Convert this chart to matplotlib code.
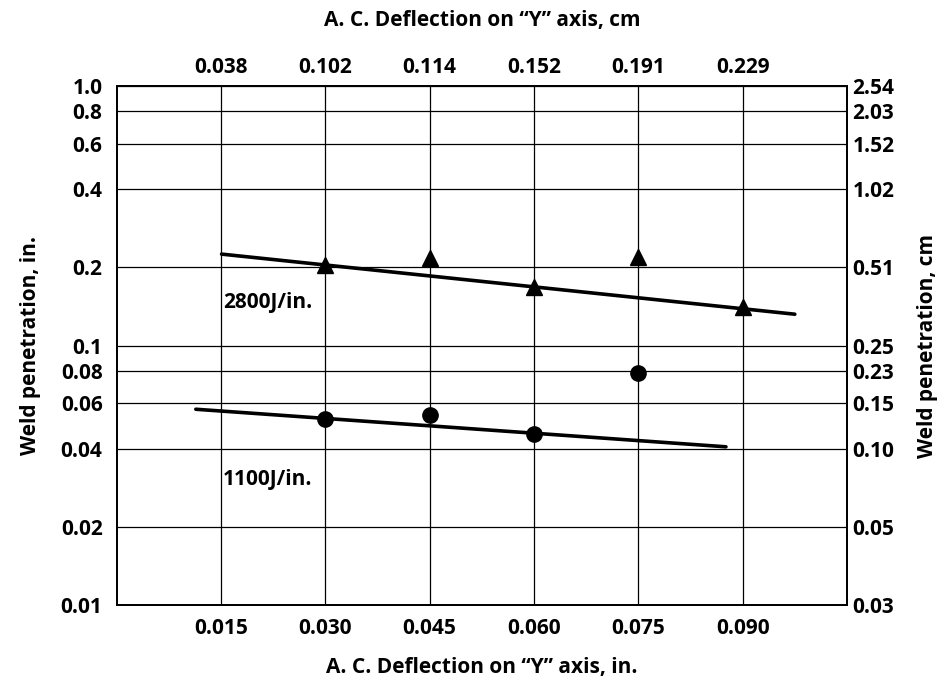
import matplotlib
matplotlib.use("Agg")
import matplotlib.pyplot as plt
import numpy as np

plt.rcParams['font.family'] = ['Open Sans', 'DejaVu Sans']
plt.rcParams['font.weight'] = 'bold'

# Data
x_ticks = [0.015, 0.030, 0.045, 0.060, 0.075, 0.090]
x_tick_labels = ["0.015", "0.030", "0.045", "0.060", "0.075", "0.090"]
top_tick_labels = ["0.038", "0.102", "0.114", "0.152", "0.191", "0.229"]
y_ticks = [1.0, 0.8, 0.6, 0.4, 0.2, 0.1, 0.08, 0.06, 0.04, 0.02, 0.01]
y_tick_labels = ["1.0", "0.8", "0.6", "0.4", "0.2", "0.1", "0.08", "0.06", "0.04", "0.02", "0.01"]
right_tick_labels = ["2.54", "2.03", "1.52", "1.02", "0.51", "0.25", "0.23", "0.15", "0.10", "0.05", "0.03"]

tri_x = [0.030, 0.045, 0.060, 0.075, 0.090]
tri_y = [0.205, 0.217, 0.168, 0.219, 0.141]
line2800_x = [0.0151, 0.0975]
line2800_y = [0.225, 0.132]

circ_x = [0.030, 0.045, 0.060, 0.075]
circ_y = [0.052, 0.054, 0.0456, 0.0786]
line1100_x = [0.0114, 0.0876]
line1100_y = [0.0568, 0.0407]

FS = 15
TS = 15

fig = plt.figure(figsize=(9.38, 6.82), dpi=100)
ax = fig.add_axes([116.5/938, 1-605/682, (847-116.5)/938, (605-86)/682])

ax.set_yscale('log')
ax.set_xlim(0, 0.105)
ax.set_ylim(0.01, 1.0)

ax.plot(line2800_x, line2800_y, color='black', lw=2.6, solid_capstyle='round', zorder=3)
ax.plot(line1100_x, line1100_y, color='black', lw=2.6, solid_capstyle='round', zorder=3)
ax.plot(tri_x, tri_y, linestyle='none', marker='^', color='black', markersize=11, zorder=4)
ax.plot(circ_x, circ_y, linestyle='none', marker='o', color='black', markersize=11, zorder=4)

ax.text(0.0153, 0.147, "2800J/in.", fontsize=FS, fontweight='bold', va='center', ha='left')
ax.text(0.0153, 0.0305, "1100J/in.", fontsize=FS, fontweight='bold', va='center', ha='left')

# grid
for yv in y_ticks:
    ax.axhline(yv, color='black', lw=0.9, zorder=1)
for xv in x_ticks:
    ax.axvline(xv, color='black', lw=0.9, zorder=1)

ax.minorticks_off()
ax.set_xticks(x_ticks)
ax.set_xticklabels(x_tick_labels, fontsize=FS, fontweight='bold')
ax.set_yticks(y_ticks)
ax.set_yticklabels(y_tick_labels, fontsize=FS, fontweight='bold')
ax.tick_params(axis='x', length=0, pad=9)
ax.tick_params(axis='y', length=0, pad=10)

for s in ax.spines.values():
    s.set_linewidth(1.2)
    s.set_color('black')

ax.set_xlabel("A. C. Deflection on \u201cY\u201d axis, in.", fontsize=TS, fontweight='bold', labelpad=13)
ax.set_ylabel("Weld penetration, in.", fontsize=TS, fontweight='bold', labelpad=14)

# top axis
axt = ax.twiny()
axt.set_xlim(ax.get_xlim())
axt.set_xticks(x_ticks)
axt.set_xticklabels(top_tick_labels, fontsize=FS, fontweight='bold')
axt.tick_params(length=0, pad=6)
axt.set_xlabel("A. C. Deflection on \u201cY\u201d axis, cm", fontsize=TS, fontweight='bold', labelpad=22)

# right axis
axr = ax.twinx()
axr.set_yscale('log')
axr.set_ylim(ax.get_ylim())
axr.minorticks_off()
axr.set_yticks(y_ticks)
axr.set_yticklabels(right_tick_labels, fontsize=FS, fontweight='bold')
axr.tick_params(length=0, pad=4)
axr.set_ylabel("Weld penetration, cm", fontsize=TS, fontweight='bold', labelpad=16)

for a in (axt, axr):
    for s in a.spines.values():
        s.set_linewidth(1.2)

fig.savefig("out.png", dpi=100)
